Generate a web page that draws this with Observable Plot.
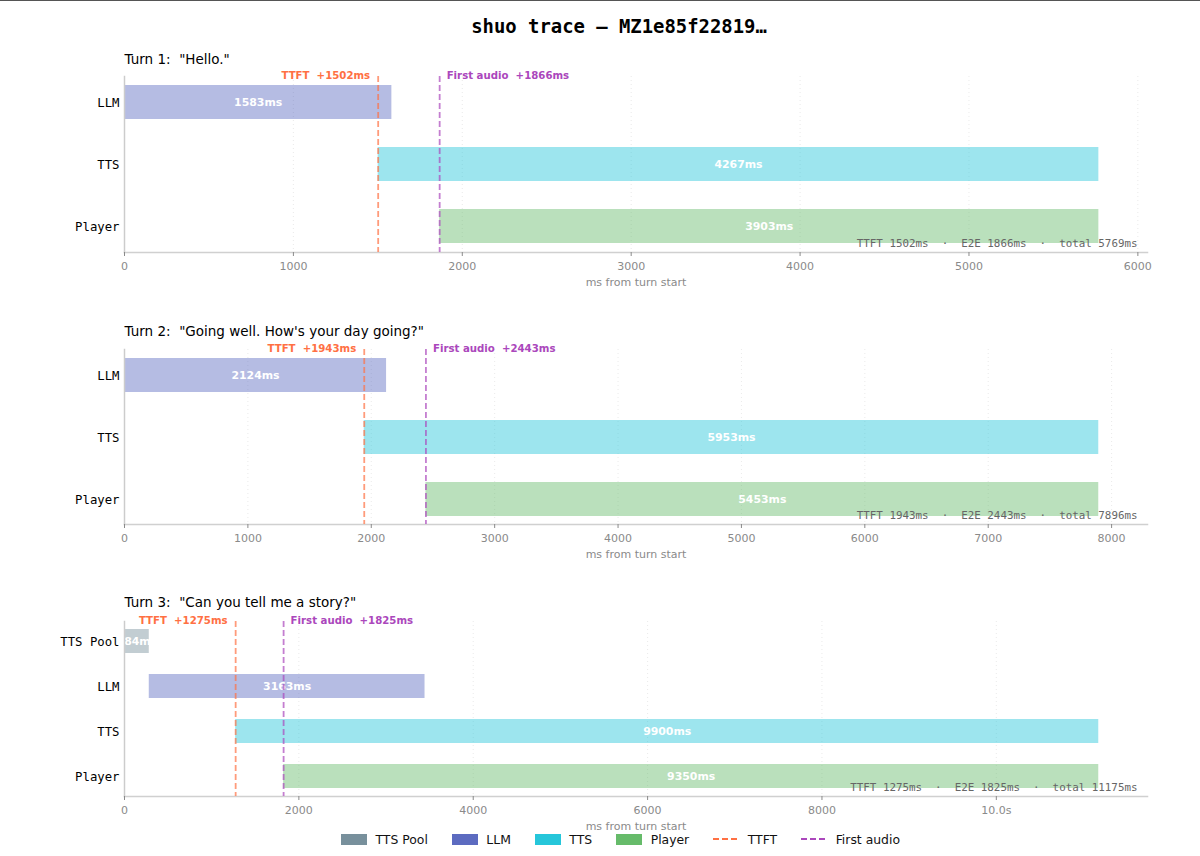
<!DOCTYPE html>
<html>
<head>
<meta charset="utf-8">
<script src="https://cdn.jsdelivr.net/npm/d3@7"></script>
<script src="https://cdn.jsdelivr.net/npm/@observablehq/plot@0.6"></script>
<style>
  html, body { margin: 0; padding: 0; background: #fff; overflow: hidden; }
  #page { position: relative; width: 1200px; height: 856px; border-top: 1px solid #555; box-sizing: border-box; }
  #title { position: absolute; left: 0; top: 14px; width: 1238px; text-align: center; font: bold 18.9px "DejaVu Sans Mono", monospace; color: #000; }
  .panel { position: absolute; left: 0; }
  .panel svg { display: block; }
  #legend { position: absolute; left: 341px; top: 829px; height: 18px; display: flex; align-items: center; font: 12.4px "DejaVu Sans", sans-serif; color: #111; }
  #legend .item { display: flex; align-items: center; margin-right: 24px; }
  #legend .swatch { display: inline-block; width: 26px; height: 11px; margin-right: 8.5px; }
  #legend svg { display: block; margin-right: 8.5px; }
</style>
</head>
<body>
<div id="page">
  <div id="title">shuo trace — MZ1e85f22819…</div>
  <div id="panels"></div>
  <div id="legend"></div>
</div>
<script>
const turnTitles = ['Turn 1:\u00a0\u00a0"Hello."', 'Turn 2:\u00a0\u00a0"Going well. How\'s your day going?"', 'Turn 3:\u00a0\u00a0"Can you tell me a story?"'];
const ttft = [1502, 1943, 1275];
const firstAudio = [1866, 2443, 1825];
const totals = [5769, 7896, 11175];
const xMax = [6057, 8291, 11734];
const xTicks = [
  [0, 1000, 2000, 3000, 4000, 5000, 6000],
  [0, 1000, 2000, 3000, 4000, 5000, 6000, 7000, 8000],
  [0, 2000, 4000, 6000, 8000, 10000]
];
const poolDur = [0, 0, 284];
const llmStart = [0, 0, 284];
const llmDur = [1583, 2124, 3163];
const ttsDur = [4267, 5953, 9900];
const playerDur = [3903, 5453, 9350];

const laneColors = { "TTS Pool": "#78909c", "LLM": "#5c6bc0", "TTS": "#26c6da", "Player": "#66bb6a" };
const ttftColor = "#ff7043";
const audioColor = "#ab47bc";
const panelFrames = [
  { top: 40, marginTop: 35, frame: 176, titleDy: -22 },
  { top: 312, marginTop: 36, frame: 175, titleDy: -23 },
  { top: 584, marginTop: 36, frame: 175, titleDy: -24 }
];
const sans = '"DejaVu Sans", sans-serif';
const mono = '"DejaVu Sans Mono", monospace';
const nb = "\u00a0";

function tickLabel(v) { return v >= 10000 ? (v / 1000).toFixed(1) + "s" : String(v); }

function lanesFor(i) {
  const rows = [];
  if (poolDur[i] > 0) rows.push({ lane: "TTS Pool", start: 0, dur: poolDur[i] });
  rows.push({ lane: "LLM", start: llmStart[i], dur: llmDur[i] });
  rows.push({ lane: "TTS", start: ttft[i], dur: ttsDur[i] });
  rows.push({ lane: "Player", start: firstAudio[i], dur: playerDur[i] });
  return rows;
}

const host = document.getElementById("panels");
turnTitles.forEach((title, i) => {
  const rows = lanesFor(i);
  const f = panelFrames[i];
  const stats = `TTFT ${ttft[i]}ms${nb}${nb}·${nb}${nb}E2E ${firstAudio[i]}ms${nb}${nb}·${nb}${nb}total ${totals[i]}ms`;
  const svg = Plot.plot({
    width: 1200,
    height: f.marginTop + f.frame + 46,
    marginLeft: 124,
    marginRight: 53,
    marginTop: f.marginTop,
    marginBottom: 46,
    style: { fontFamily: sans, background: "transparent", overflow: "visible" },
    x: { domain: [0, xMax[i]] },
    y: { type: "band", domain: rows.map(d => d.lane), paddingInner: 0.456, paddingOuter: rows.length === 4 ? 0.172 : 0.136 },
    marks: [
      Plot.ruleX(xTicks[i], { stroke: "#e4e4e4", strokeWidth: 0.8, strokeDasharray: "1,3" }),
      Plot.barX(rows, { x1: "start", x2: d => d.start + d.dur, y: "lane", fill: d => laneColors[d.lane], fillOpacity: 0.45 }),
      Plot.text(rows, { x: d => d.start + d.dur / 2, y: "lane", text: d => d.dur + "ms", fill: "#fff", fontSize: 10.9, fontWeight: "bold" }),
      Plot.frame({ anchor: "left", stroke: "#ccc", strokeWidth: 1.5 }),
      Plot.frame({ anchor: "bottom", stroke: "#d0d0d0", strokeWidth: 1.5 }),
      Plot.ruleX([ttft[i]], { stroke: ttftColor, strokeWidth: 1.8, strokeDasharray: "6,3", strokeOpacity: 0.7 }),
      Plot.ruleX([firstAudio[i]], { stroke: audioColor, strokeWidth: 1.8, strokeDasharray: "6,3", strokeOpacity: 0.7 }),
      Plot.text([ttft[i]], { x: d => d, frameAnchor: "top", text: d => `TTFT${nb}${nb}+${d}ms`, textAnchor: "end", dx: -8, dy: -5, fill: ttftColor, fontSize: 10.2, fontWeight: "bold" }),
      Plot.text([firstAudio[i]], { x: d => d, frameAnchor: "top", text: d => `First audio${nb}${nb}+${d}ms`, textAnchor: "start", dx: 7, dy: -5, fill: audioColor, fontSize: 10.2, fontWeight: "bold" }),
      Plot.text([stats], { frameAnchor: "bottom-right", text: d => d, dx: -10, dy: -5.5, fill: "#666", fontFamily: mono, fontSize: 10.85 }),
      Plot.text([title], { frameAnchor: "top-left", text: d => d, dy: f.titleDy, fill: "#000", fontSize: 13.5 }),
      Plot.axisX({ ticks: xTicks[i], tickFormat: tickLabel, tickSize: 4, tickPadding: 6, fontSize: 11, color: "#8a8a8a", label: "ms from turn start", labelAnchor: "center", labelArrow: "none", labelOffset: 33 }),
      Plot.axisY({ tickSize: 0, tickPadding: 5, dy: 1, fontSize: 12.3, fontFamily: mono, color: "#000", label: null })
    ]
  });
  const wrap = document.createElement("div");
  wrap.className = "panel";
  wrap.style.top = f.top + "px";
  wrap.appendChild(svg);
  host.appendChild(wrap);
});

const legend = document.getElementById("legend");
Object.entries(laneColors).forEach(([name, color]) => {
  const item = document.createElement("div");
  item.className = "item";
  const sw = document.createElement("span");
  sw.className = "swatch";
  sw.style.background = color;
  item.appendChild(sw);
  item.appendChild(document.createTextNode(name));
  legend.appendChild(item);
});
[["TTFT", ttftColor], ["First audio", audioColor]].forEach(([name, color]) => {
  const item = document.createElement("div");
  item.className = "item";
  item.innerHTML = `<svg width="26" height="6"><line x1="0" y1="3" x2="26" y2="3" stroke="${color}" stroke-width="2" stroke-dasharray="6,3"/></svg>`;
  item.appendChild(document.createTextNode(name));
  legend.appendChild(item);
});
</script>
</body>
</html>
